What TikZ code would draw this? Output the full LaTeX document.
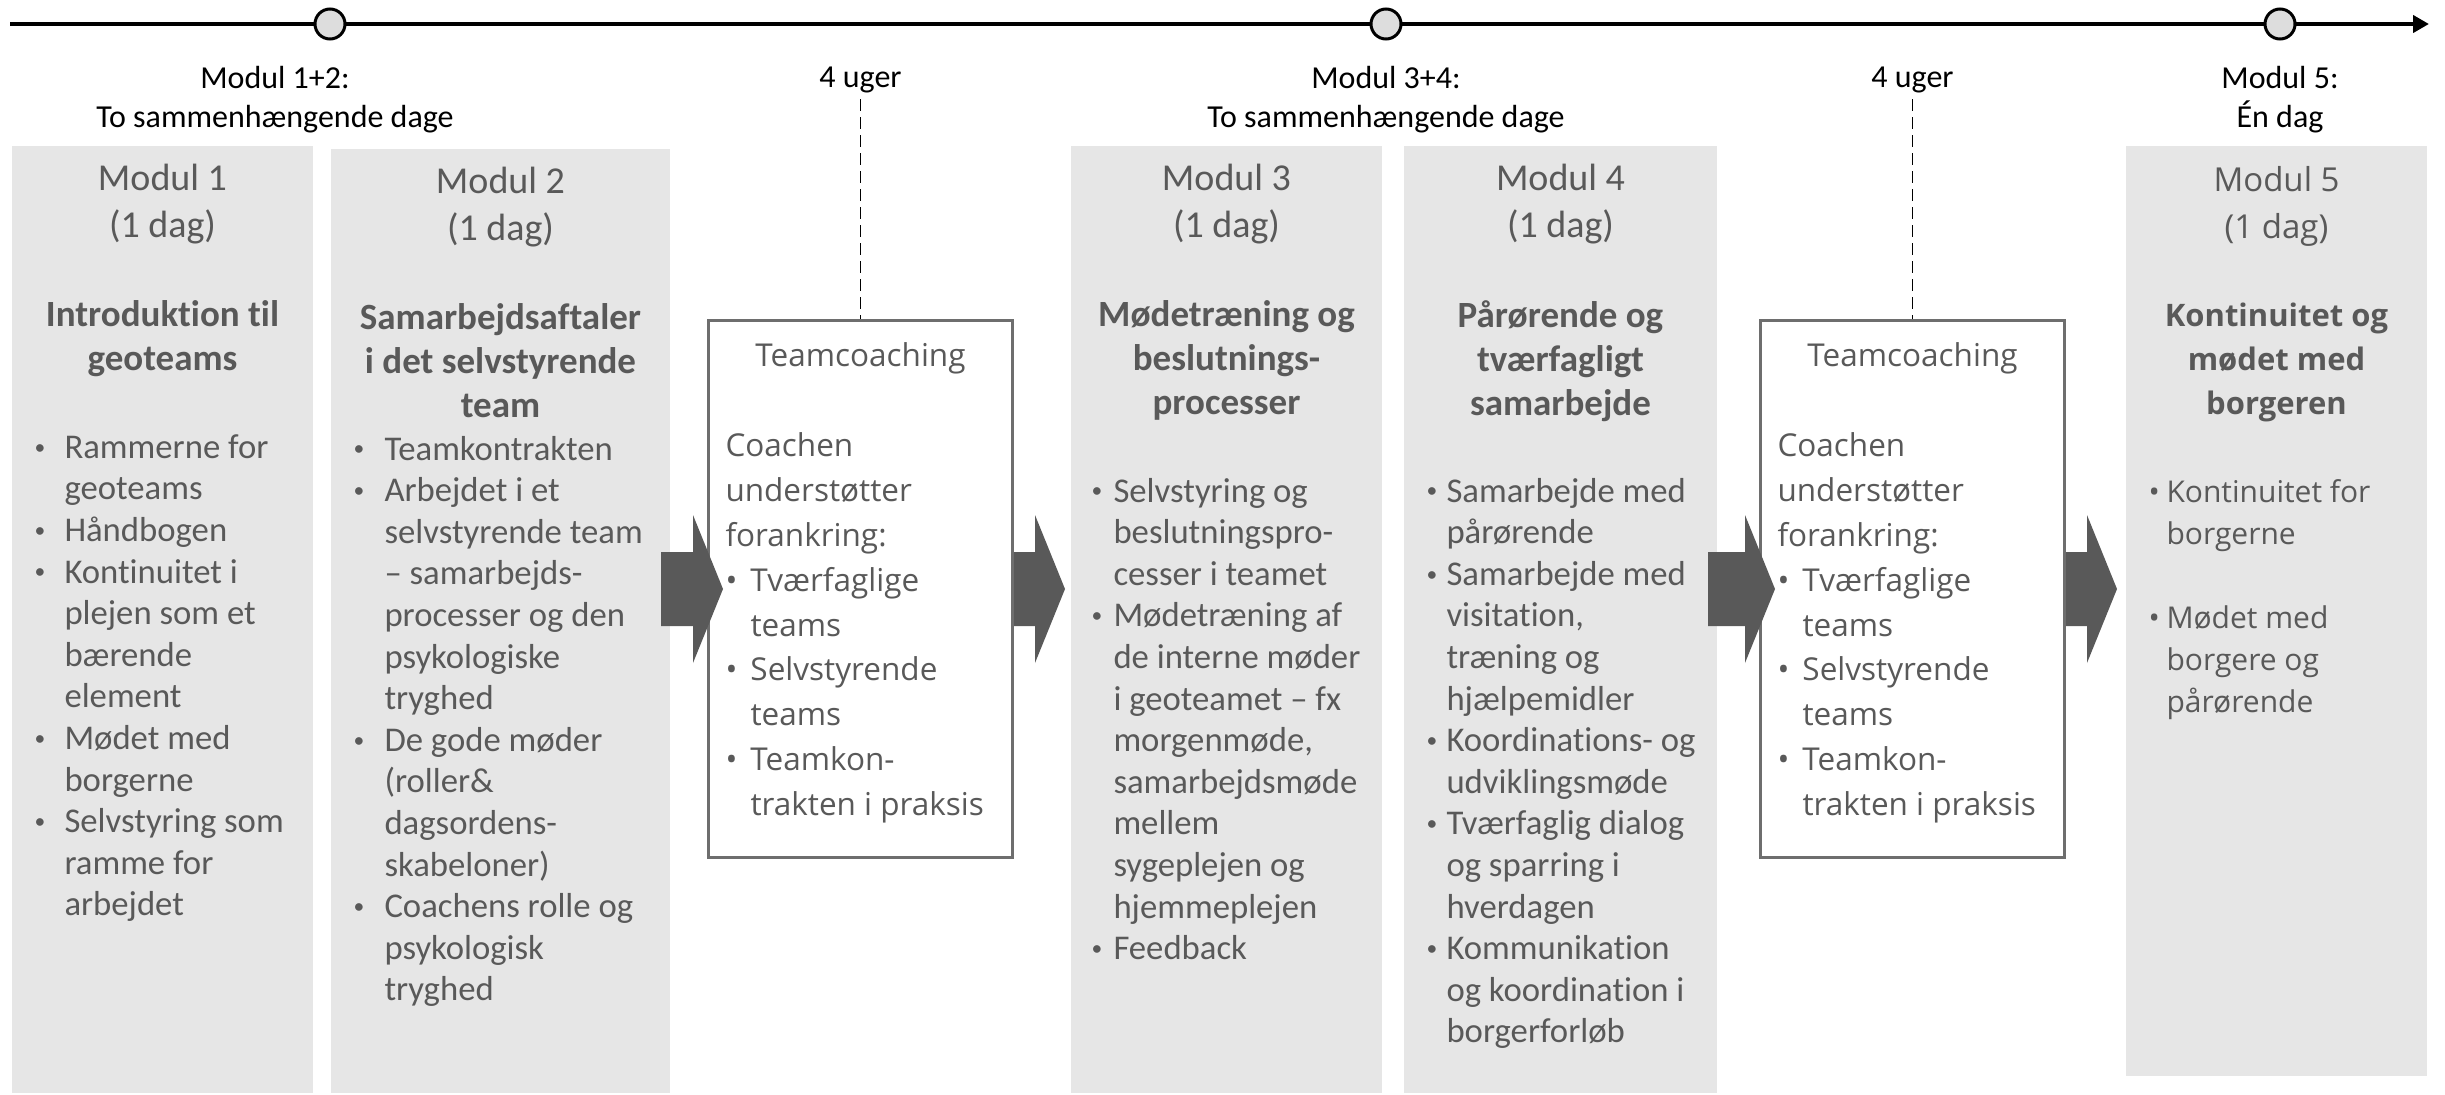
\documentclass[tikz,border=0pt]{standalone}
\usepackage{fontspec}
\setmainfont{Carlito}[Ligatures=NoCommon]
\newfontfamily\widefont{Open Sans}
\usepackage{graphicx}
\usepackage{xcolor}
\usepackage{tikz}
\usetikzlibrary{calc}
\usetikzlibrary{arrows.meta,positioning}

\definecolor{boxgray}{HTML}{E6E6E6}
\definecolor{txtgray}{HTML}{595959}
\definecolor{arrowgray}{HTML}{595959}
\definecolor{framegray}{HTML}{6E6E6E}
\definecolor{dotgray}{HTML}{DDDDDD}

\newcommand{\bulw}{30pt}
\newcommand{\bulsym}{\textbullet}
\newcommand{\bpt}{\makebox[\bulw][l]{\bulsym}}
\newcommand{\bgo}{\hspace*{\bulw}}
\newcommand{\flowarrow}[2]{%
	\fill[arrowgray] let \p1=(#1), \p2=(#2) in
		(\x1,\y2+37pt) -- (\x2-30pt,\y2+37pt) -- (\x2-30pt,\y2+74pt) -- (\x2,\y2)
		-- (\x2-30pt,\y2-74pt) -- (\x2-30pt,\y2-37pt) -- (\x1,\y2-37pt) -- cycle;}

\begin{document}
\begin{tikzpicture}[
		%Global config
		x=1pt, y=-1pt,
		line width=1pt,
		color = black,
		%Styles
		timeline/.style={
			line width=4pt,
			-{Triangle[length=16pt,width=17pt]}
		},
		milestone/.style={
			circle, draw=black, line width=3pt, fill=dotgray,
			minimum size=30pt, inner sep=0pt
		},
		modbox/.style={
			fill=boxgray, anchor=north west, inner sep=0pt, outer sep=0pt
		},
		coachbox/.style={
			draw=framegray, fill=white, line width=3pt,
			anchor=north west, inner sep=0pt
		},
		toplabel/.style={
			anchor=north, align=center, inner sep=0pt,
			font=\fontsize{32}{39}\selectfont
		},
		weekline/.style={
			line width=1.5pt, dash pattern=on 12pt off 6pt, shorten <=6pt
		},
		modhead/.style={
			anchor=north, align=center, inner sep=0pt, text=txtgray,
			font=\fontsize{38}{46.5}\selectfont
		},
		modtitle/.style={
			anchor=north, align=center, inner sep=0pt, text=txtgray,
			font=\fontsize{37}{44}\selectfont\bfseries
		},
		modlist/.style={
			anchor=north west, align=left, inner sep=0pt, text=txtgray,
			font=\fontsize{34.7}{41.6}\selectfont,
			execute at begin node={\gdef\bulw{#1}%
				\gdef\bulsym{\raisebox{0.12em}{\scalebox{0.62}{\textbullet}}}}
		},
		widehead/.style={modhead, font=\widefont\fontsize{33}{46.8}\selectfont},
		widetitle/.style={modtitle, font=\widefont\fontsize{31}{44}\selectfont\bfseries},
		widelist/.style={
			modlist=#1, font=\widefont\fontsize{30}{42}\selectfont,
			execute at begin node={\gdef\bulsym{\textbullet}}
		},
		coachtitle/.style={
			anchor=north, inner sep=0pt, text=txtgray,
			font=\widefont\fontsize{31.5}{44.9}\selectfont
		},
		coachlist/.style={widelist=#1, font=\widefont\fontsize{31.5}{44.9}\selectfont}
	]
	\useasboundingbox (0,0) rectangle (2445,1095);
	
	% timeline
	\coordinate (tl0) at (10,24);
	\coordinate (tl1) at (2429,24);
	\draw[timeline] (tl0) -- (tl1);
	\node[milestone] (c1) at (330,24) {};
	\node[milestone] (c2) at (1386,24) {};
	\node[milestone] (c3) at (2280,24) {};
	
	% boxes
	\node[modbox, minimum width=301, minimum height=947] (m1) at (12,146) {};
	\node[modbox, minimum width=339, minimum height=944] (m2) at (331,149) {};
	\node[modbox, minimum width=311, minimum height=947] (m3) at (1071,146) {};
	\node[modbox, minimum width=313, minimum height=947] (m4) at (1404,146) {};
	\node[modbox, minimum width=301, minimum height=930] (m5) at (2126,146) {};
	\node[coachbox, minimum width=304, minimum height=537] (tc1) at (707,319) {};
	\node[coachbox, minimum width=304, minimum height=537] (tc2) at (1759,319) {};
	
	% labels above
	\node[toplabel] (l12) at (275,66) {Modul 1+2:\\To sammenhængende dage};
	\node[toplabel] (l34) at (c2 |- l12.north) {Modul 3+4:\\To sammenhængende dage};
	\node[toplabel] (l5) at (c3 |- l12.north) {Modul 5:\\Én dag};
	\node[toplabel] (w1) at (tc1.north |- l12.north) {4 uger};
	\node[toplabel] (w2) at (tc2.north |- l12.north) {4 uger};
	\draw[weekline] (w1.south) -- (tc1.north);
	\draw[weekline] (w2.south) -- (tc2.north);
	
	% arrows
	\flowarrow{$(m2.east)+(-9,0)$}{$(tc1.west)+(16,0)$}
	\flowarrow{tc1.east}{$(m3.west |- tc1.west)+(-6,0)$}
	\flowarrow{$(m4.east)+(-9,0)$}{$(tc2.west)+(16,0)$}
	\flowarrow{tc2.east}{$(m5.west |- tc2.west)+(-9,0)$}
	
	% Modul 1
	\node[modhead] (m1h) at ($(m1.north)+(0,18)$) {Modul 1\\(1 dag)};
	\node[modtitle] (m1t) at ($(m1.north)+(0,154)$) {Introduktion til\\geoteams};
	\node[modlist=30pt] (m1l) at ($(m1.north west)+(22,288)$) {%
		\bpt Rammerne for\\ \bgo geoteams\\
		\bpt Håndbogen\\
		\bpt Kontinuitet i\\ \bgo plejen som et\\ \bgo bærende\\ \bgo element\\
		\bpt Mødet med\\ \bgo borgerne\\
		\bpt Selvstyring som\\ \bgo ramme for\\ \bgo arbejdet};
	
	% Modul 2
	\node[modhead] (m2h) at ($(m2.north)+(0,18)$) {Modul 2\\(1 dag)};
	\node[modtitle] (m2t) at ($(m2.north)+(0,154)$) {Samarbejdsaftaler\\i det selvstyrende\\team};
	\node[modlist=31pt] (m2l) at ($(m2.north west)+(22,286.5)$) {%
		\bpt Teamkontrakten\\
		\bpt Arbejdet i et\\ \bgo selvstyrende team\\ \bgo – samarbejds-\\
		\bgo processer og den\\ \bgo psykologiske\\ \bgo tryghed\\
		\bpt De gode møder\\ \bgo (roller\&\\ \bgo dagsordens-\\ \bgo skabeloner)\\
		\bpt Coachens rolle og\\ \bgo psykologisk\\ \bgo tryghed};
	
	% Teamcoaching 1
	\node[coachtitle] (tc1t) at ($(tc1.north)+(0,23)$) {Teamcoaching};
	\node[coachlist=25pt] (tc1l) at ($(tc1.north west)+(18,113)$) {%
		Coachen\\ understøtter\\ forankring:\\
		\bpt Tværfaglige\\ \bgo teams\\
		\bpt Selvstyrende\\ \bgo teams\\
		\bpt Teamkon-\\ \bgo trakten i praksis};
	
	% Modul 3
	\node[modhead] (m3h) at ($(m3.north)+(0,18)$) {Modul 3\\(1 dag)};
	\node[modtitle] (m3t) at ($(m3.north)+(0,154)$) {Mødetræning og\\beslutnings-\\processer};
	\node[modlist=22pt] (m3l) at ($(m3.north west)+(20,331.5)$) {%
		\bpt Selvstyring og\\ \bgo beslutningspro-\\ \bgo cesser i teamet\\
		\bpt Mødetræning af\\ \bgo de interne møder\\ \bgo i geoteamet – fx\\
		\bgo morgenmøde,\\ \bgo samarbejdsmøde\\ \bgo mellem\\
		\bgo sygeplejen og\\ \bgo hjemmeplejen\\
		\bpt Feedback};
	
	% Modul 4
	\node[modhead] (m4h) at ($(m4.north)+(0,18)$) {Modul 4\\(1 dag)};
	\node[modtitle] (m4t) at ($(m4.north)+(0,154)$) {Pårørende og\\tværfagligt\\samarbejde};
	\node[modlist=20pt] (m4l) at ($(m4.north west)+(22,331.5)$) {%
		\bpt Samarbejde med\\ \bgo pårørende\\
		\bpt Samarbejde med\\ \bgo visitation,\\ \bgo træning og\\ \bgo hjælpemidler\\
		\bpt Koordinations- og\\ \bgo udviklingsmøde\\
		\bpt Tværfaglig dialog\\ \bgo og sparring i\\ \bgo hverdagen\\
		\bpt Kommunikation\\ \bgo og koordination i\\ \bgo borgerforløb};
	
	% Teamcoaching 2
	\node[coachtitle] (tc2t) at ($(tc2.north)+(0,23)$) {Teamcoaching};
	\node[coachlist=25pt] (tc2l) at ($(tc2.north west)+(18,113)$) {%
		Coachen\\ understøtter\\ forankring:\\
		\bpt Tværfaglige\\ \bgo teams\\
		\bpt Selvstyrende\\ \bgo teams\\
		\bpt Teamkon-\\ \bgo trakten i praksis};
	
	% Modul 5
	\node[widehead] (m5h) at ($(m5.north)+(0,20)$) {Modul 5\\(1 dag)};
	\node[widetitle] (m5t) at ($(m5.north)+(0,156)$) {Kontinuitet og\\mødet med\\borgeren};
	\node[widelist=18pt] (m5l) at ($(m5.north west)+(22,333)$) {%
		\bpt Kontinuitet for\\ \bgo borgerne\\[42pt]
		\bpt Mødet med\\ \bgo borgere og\\ \bgo pårørende};
\end{tikzpicture}
\end{document}
